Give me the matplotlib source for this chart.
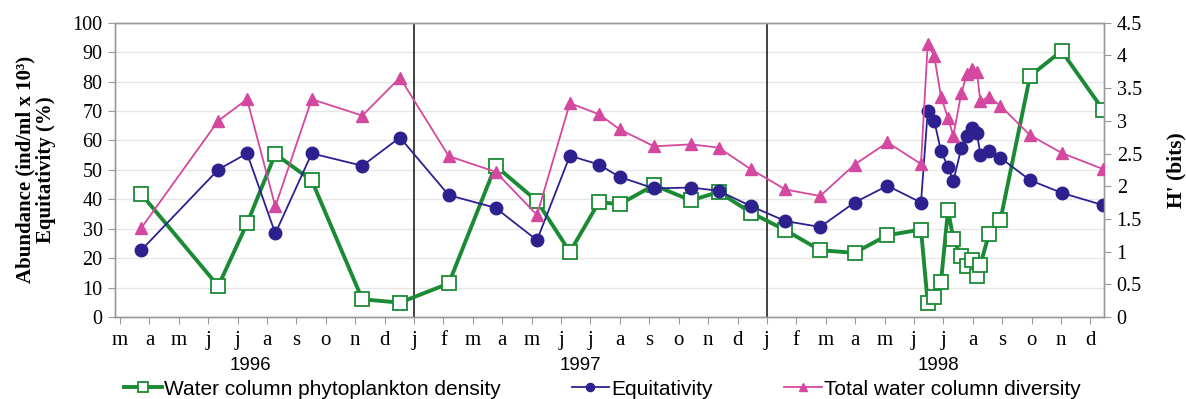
import matplotlib
matplotlib.use("Agg")
import matplotlib.pyplot as plt

# sampling dates as month index (0 = January 1996)
months = [2.72, 5.34, 6.32, 7.28, 8.52, 10.24, 11.52, 13.18, 14.77, 16.18,
          17.30, 18.29, 18.99, 20.16, 21.42, 22.36, 23.45, 24.63, 25.81, 26.98,
          28.10, 29.24, 29.47, 29.69, 29.92, 30.16, 30.34, 30.61, 30.80, 30.98,
          31.14, 31.26, 31.55, 31.94, 32.95, 34.02, 35.44]

density = [41.8, 10.5, 31.8, 55.4, 46.4, 6.0, 4.9, 11.4, 51.4, 39.4,
           22.1, 39.1, 38.3, 44.8, 39.6, 42.5, 35.5, 29.5, 22.7, 21.8,
           27.8, 29.7, 4.8, 6.8, 11.9, 36.5, 26.5, 20.6, 17.2, 19.3,
           14.1, 17.8, 28.1, 32.9, 81.9, 90.4, 70.3]

equitativity = [22.7, 50.1, 55.6, 28.4, 55.6, 51.4, 61.0, 41.4, 37.1, 26.1,
                54.8, 51.8, 47.6, 43.7, 44.0, 42.9, 37.7, 32.6, 30.6, 38.9,
                44.6, 38.9, 70.0, 66.7, 56.4, 51.0, 46.2, 57.3, 61.6, 64.1,
                62.7, 55.2, 56.4, 54.1, 46.5, 42.2, 38.0]

diversity = [1.36, 3.00, 3.33, 1.69, 3.33, 3.08, 3.66, 2.46, 2.22, 1.56,
             3.27, 3.10, 2.87, 2.61, 2.64, 2.59, 2.26, 1.95, 1.85, 2.33,
             2.67, 2.34, 4.18, 3.99, 3.37, 3.04, 2.77, 3.42, 3.71, 3.80,
             3.75, 3.30, 3.37, 3.23, 2.78, 2.51, 2.26]

month_ticks = list(range(2, 36))
month_labels = ['m', 'a', 'm', 'j', 'j', 'a', 's', 'o', 'n', 'd',
                'j', 'f', 'm', 'a', 'm', 'j', 'j', 'a', 's', 'o', 'n', 'd',
                'j', 'f', 'm', 'a', 'm', 'j', 'j', 'a', 's', 'o', 'n', 'd']
years = ['1996', '1997', '1998']
year_pos = [6.45, 17.65, 29.85]
year_breaks = [12, 24]

GREEN = '#1b8a34'
BLUE = '#2d2190'
PINK = '#d4489f'
AXIS = '#9a9a9a'
SERIF = 'Liberation Serif'
SANS = 'Liberation Sans'

fig = plt.figure(figsize=(11.86, 3.99), dpi=100)
ax = fig.add_axes([0.097, 0.2055, 0.834, 0.7375])
ax2 = ax.twinx()

ax.set_xlim(1.83, 35.47)
ax.set_ylim(0, 100)
ax2.set_ylim(0, 4.5)

ax.set_yticks(range(0, 101, 10))
ax.grid(axis='y', color='#e6e6e6', lw=1.0)
ax.set_axisbelow(True)
for xb in year_breaks:
    ax.axvline(xb, color='#333333', lw=1.3, zorder=1)

ax.plot(months, density, color=GREEN, lw=2.8, marker='s', ms=10,
        mfc='white', mec=GREEN, mew=1.3, zorder=3,
        label='Water column phytoplankton density')
ax.plot(months, equitativity, color=BLUE, lw=1.3, marker='o', ms=9,
        mfc=BLUE, mec=BLUE, zorder=4, label='Equitativity')
ax2.plot(months, diversity, color=PINK, lw=1.3, marker='^', ms=9,
         mfc=PINK, mec=PINK, zorder=4, label='Total water column diversity')

ax.set_xticks(month_ticks)
ax.set_xticklabels(month_labels, fontfamily=SERIF, fontsize=15)
ax.tick_params(axis='x', length=5, color=AXIS, pad=5)
ax.tick_params(axis='y', length=5, color=AXIS, labelsize=14.5, pad=4)
for t in ax.get_yticklabels():
    t.set_fontfamily(SERIF)

ax2.set_yticks([0, 0.5, 1, 1.5, 2, 2.5, 3, 3.5, 4, 4.5])
ax2.set_yticklabels(['0', '0.5', '1', '1.5', '2', '2.5', '3', '3.5', '4', '4.5'],
                    fontfamily=SERIF, fontsize=14.5)
ax2.tick_params(axis='y', length=5, color=AXIS, pad=4)

for a in (ax, ax2):
    for s in a.spines.values():
        s.set_color(AXIS)
        s.set_linewidth(1.0)

ax.set_ylabel('Abundance (ind/ml x 10³)\nEquitativity (%)',
              fontfamily=SERIF, fontweight='bold', fontsize=15, labelpad=12,
              linespacing=1.05)
ax2.set_ylabel("H' (bits)", fontfamily=SERIF, fontweight='bold',
               fontsize=15.5, labelpad=18)

for yr, xp in zip(years, year_pos):
    ax.text(xp, -0.165, yr, transform=ax.get_xaxis_transform(),
            ha='center', va='center', fontfamily=SANS, fontsize=13.5)

h1, l1 = ax.get_legend_handles_labels()
h2, l2 = ax2.get_legend_handles_labels()
fig.legend(h1 + h2, l1 + l2, loc='center', bbox_to_anchor=(0.508, 0.025),
           ncol=3, frameon=False, prop={'family': SANS, 'size': 15},
           handlelength=1.8, handletextpad=0.12, columnspacing=3.4,
           markerscale=0.65, borderaxespad=0)

fig.savefig('out.png', dpi=100)
